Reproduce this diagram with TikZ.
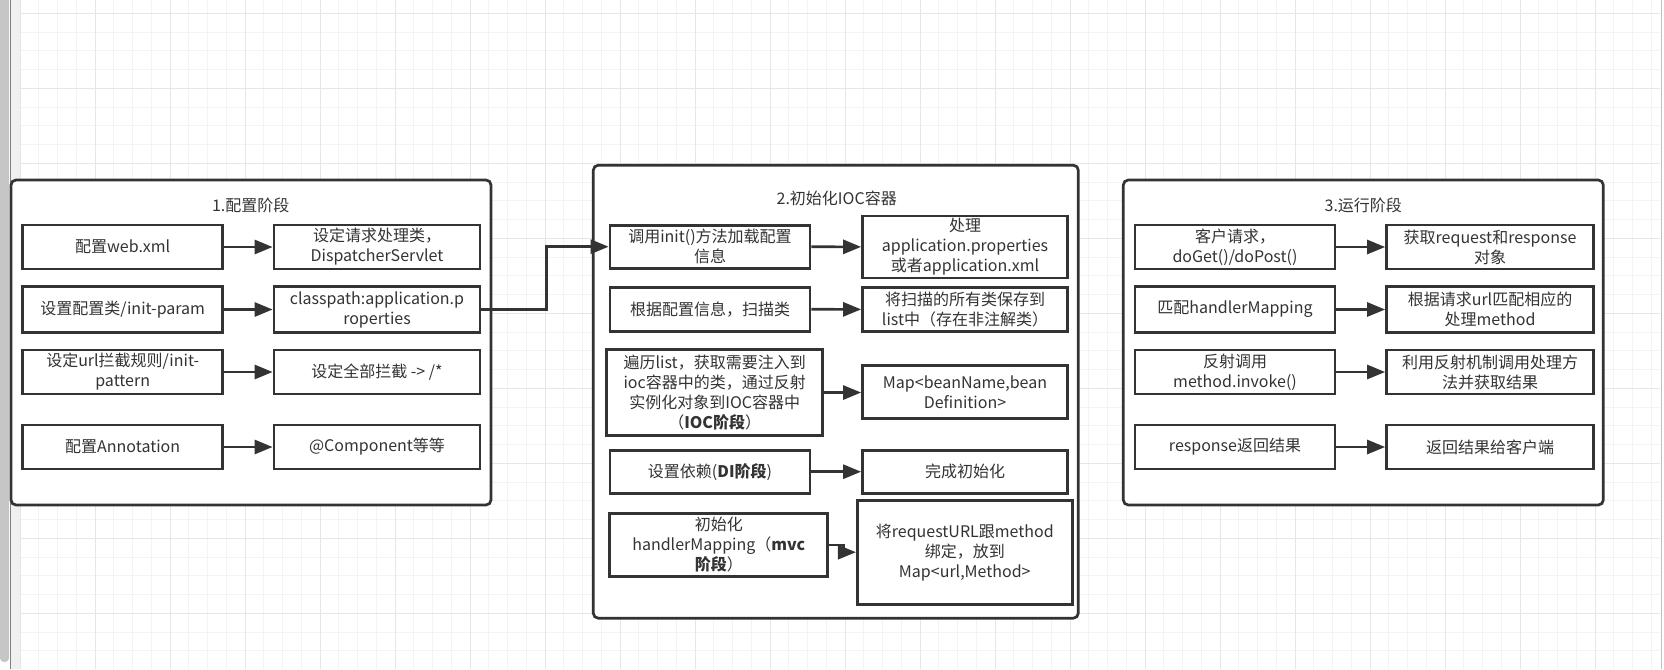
\documentclass[tikz,border=0pt]{standalone}
\usepackage{fontspec}
\setmainfont{Noto Sans CJK SC}
\usetikzlibrary{arrows.meta}

\definecolor{ink}{HTML}{333333}
\definecolor{gridminor}{HTML}{F3F3F3}
\definecolor{gridmajor}{HTML}{E6E6E6}
\definecolor{barfill}{HTML}{C6C6C6}
\definecolor{stripfill}{HTML}{F0F0F0}

\begin{document}
\begin{tikzpicture}[x=1pt, y=-1pt,
		every node/.style={font=\fontsize{16}{20}\selectfont, text=ink, align=center},
		stepbox/.style={draw=ink, line width=2.7pt, fill=white, minimum width=200pt, minimum height=44pt, inner sep=1pt},
		stage/.style={draw=ink, line width=2.7pt, fill=white, rounded corners=5pt},
		arr/.style={draw=ink, line width=2.7pt, -{Triangle[length=18pt,width=14pt]}}]

	\useasboundingbox (0,0) rectangle (1664,669);

	% background grid
	\fill[white] (0,0) rectangle (1664,669);
	\foreach \i in {0,...,87}
		\draw[gridminor, line width=1pt] (20+18.75*\i,0) -- (20+18.75*\i,669);
	\foreach \i in {0,...,34}
		\draw[gridminor, line width=1pt] (11,13.33+18.75*\i) -- (1660,13.33+18.75*\i);
	\foreach \i in {0,4,...,84}
		\draw[gridmajor, line width=1pt] (20+18.75*\i,0) -- (20+18.75*\i,669);
	\foreach \i in {0,4,...,32}
		\draw[gridmajor, line width=1pt] (11,13.33+18.75*\i) -- (1660,13.33+18.75*\i);
	\fill[stripfill] (10.5,0) rectangle (19.5,669);
	\fill[barfill, rounded corners=4pt] (0,-10) rectangle (9,662);
	\draw[gray, line width=1pt] (10,0) -- (10,669);
	\draw[gray!50, line width=1pt] (1661,0) -- (1661,669);

	% 1. stage
	\node[stage, minimum width=480pt, minimum height=325pt] (s1) at (251,342.5) {};
	\node (t1) at (250.7,205) {1.配置阶段};
	\node[stepbox] (a1) at (122.7,247) {配置web.xml};
	\node[stepbox, minimum width=206pt] (b1) at (377,247) {设定请求处理类，\\DispatcherServlet};
	\node[stepbox, minimum height=46pt] (a2) at (122.7,309.5) {设置配置类/init-param};
	\node[stepbox, minimum width=206pt, minimum height=46pt] (b2) at (377,309.5) {classpath:application.p\\roperties};
	\node[stepbox] (a3) at (122.7,372) {设定url拦截规则/init-\\pattern};
	\node[stepbox, minimum width=206pt] (b3) at (377,372) {设定全部拦截 -> /*};
	\node[stepbox] (a4) at (122.7,447) {配置Annotation};
	\node[stepbox, minimum width=206pt] (b4) at (377,447) {@Component等等};

	% 2. stage
	\node[stage, minimum width=485pt, minimum height=453pt] (s2) at (835.8,391.7) {};
	\node (t2) at (836.7,198.3) {2.初始化IOC容器};
	\node[stepbox, minimum height=43pt] (c1) at (710,246.7) {调用init()方法加载配置\\信息};
	\node[stepbox, minimum width=205pt, minimum height=62pt] (d1) at (965,247) {处理\\application.properties\\或者application.xml};
	\node[stepbox, minimum height=44pt] (c2) at (710,309.2) {根据配置信息，扫描类};
	\node[stepbox, minimum width=205pt, minimum height=44pt] (d2) at (965,309.5) {将扫描的所有类保存到\\list中（存在非注解类）};
	\node[stepbox, minimum width=216pt, minimum height=86pt] (c3) at (714.7,392.8) {遍历list，获取需要注入到\\ioc容器中的类，通过反射\\实例化对象到IOC容器中\\（\textbf{IOC阶段}）};
	\node[stepbox, minimum width=205pt, minimum height=53pt] (d3) at (965,392.3) {Map<beanName,bean\\Definition>};
	\node[stepbox, minimum height=43pt] (c4) at (710,471.7) {设置依赖(\textbf{DI阶段})};
	\node[stepbox, minimum width=205pt, minimum height=43pt] (d4) at (965,471.7) {完成初始化};
	\node[stepbox, minimum width=218pt, minimum height=63pt] (c5) at (718.8,545) {初始化\\handlerMapping（\textbf{mvc}\\\textbf{阶段}）};
	\node[stepbox, minimum width=215pt, minimum height=104pt] (d5) at (964.8,552.2) {将requestURL跟method\\绑定，放到\\Map<url,Method>};

	% 3. stage
	\node[stage, minimum width=480pt, minimum height=325pt] (s3) at (1363.3,342.5) {};
	\node (t3) at (1363.3,205) {3.运行阶段};
	\node[stepbox] (e1) at (1235,247) {客户请求，\\doGet()/doPost()};
	\node[stepbox, minimum width=207pt] (f1) at (1490,247) {获取request和response\\对象};
	\node[stepbox, minimum height=46pt] (e2) at (1235,309.5) {匹配handlerMapping};
	\node[stepbox, minimum width=207pt, minimum height=46pt] (f2) at (1490,309.5) {根据请求url匹配相应的\\处理method};
	\node[stepbox] (e3) at (1235,372) {反射调用\\method.invoke()};
	\node[stepbox, minimum width=207pt] (f3) at (1490,372) {利用反射机制调用处理方\\法并获取结果};
	\node[stepbox] (e4) at (1235,447) {response返回结果};
	\node[stepbox, minimum width=207pt] (f4) at (1490,447) {返回结果给客户端};

	% arrows
	\foreach \l/\r in {a1/b1, a2/b2, a3/b3, a4/b4, c1/d1, c2/d2, c3/d3, c4/d4, e1/f1, e2/f2, e3/f3, e4/f4}
		\draw[arr] (\l) -- (\r);
	\draw[arr] (c5.east) -- ++(14,0) |- (d5.west);
	\draw[arr] (b2.east) -- ++(65,0) |- (c1.west);
\end{tikzpicture}
\end{document}
